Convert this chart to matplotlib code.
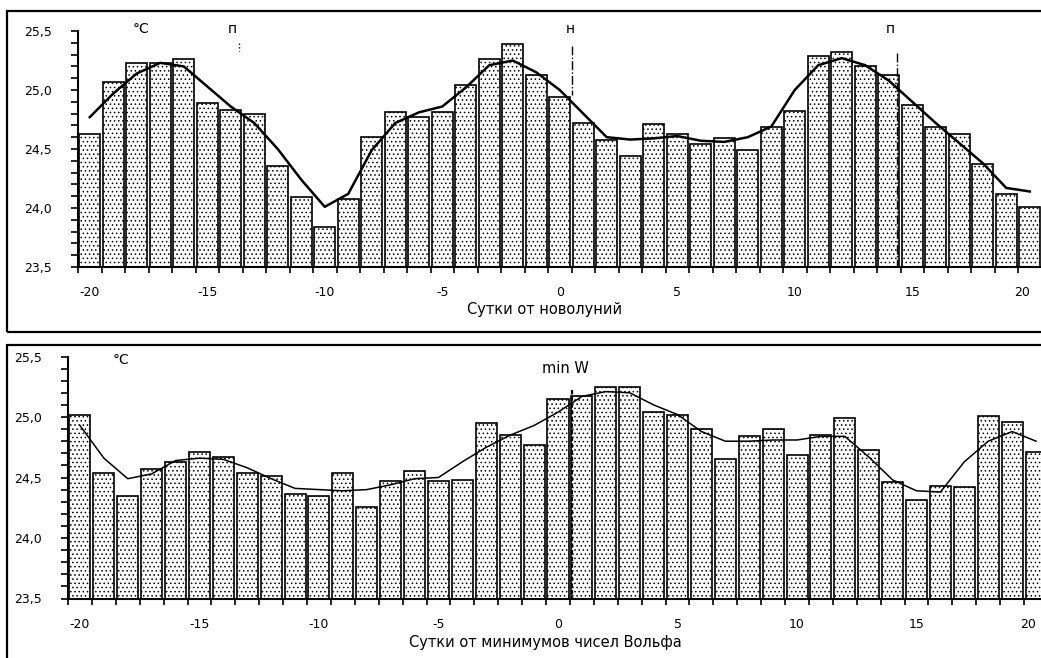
import numpy as np
import matplotlib.pyplot as plt
from matplotlib.patches import Rectangle

W, H = 1041, 658

days = np.arange(-20, 21)

# mean temperature by day relative to new moon
moon_bars = [24.63, 25.07, 25.23, 25.23, 25.26, 24.89, 24.83, 24.80, 24.36, 24.09,
             23.84, 24.08, 24.60, 24.81, 24.77, 24.81, 25.04, 25.26, 25.39, 25.13,
             24.94, 24.72, 24.58, 24.44, 24.71, 24.63, 24.54, 24.59, 24.49, 24.69,
             24.82, 25.29, 25.32, 25.20, 25.13, 24.87, 24.69, 24.63, 24.37, 24.12,
             24.01]
moon_smooth = [24.77, 24.97, 25.14, 25.23, 25.20, 25.03, 24.86, 24.72, 24.50, 24.24,
               24.01, 24.12, 24.49, 24.72, 24.81, 24.86, 25.02, 25.21, 25.25, 25.15,
               25.00, 24.80, 24.60, 24.58, 24.59, 24.61, 24.57, 24.56, 24.60, 24.69,
               25.00, 25.21, 25.27, 25.21, 25.08, 24.90, 24.72, 24.55, 24.38, 24.17,
               24.14]

# mean temperature by day relative to Wolf number minima
wolf_bars = [25.02, 24.54, 24.35, 24.57, 24.63, 24.71, 24.67, 24.54, 24.51, 24.36,
             24.35, 24.54, 24.26, 24.47, 24.55, 24.47, 24.48, 24.95, 24.85, 24.77,
             25.15, 25.17, 25.25, 25.25, 25.04, 25.02, 24.90, 24.65, 24.84, 24.90,
             24.69, 24.85, 24.99, 24.73, 24.46, 24.31, 24.43, 24.42, 25.01, 24.96,
             24.71]
wolf_smooth = [24.93, 24.66, 24.49, 24.53, 24.64, 24.66, 24.65, 24.58, 24.49, 24.41,
               24.40, 24.39, 24.40, 24.44, 24.49, 24.50, 24.63, 24.75, 24.85, 24.93,
               25.04, 25.17, 25.21, 25.20, 25.10, 25.02, 24.88, 24.80, 24.80, 24.81,
               24.81, 24.84, 24.84, 24.67, 24.48, 24.39, 24.38, 24.63, 24.80, 24.88,
               24.80]

y_ticks = [23.5, 24.0, 24.5, 25.0, 25.5]
y_labels = ["23,5", "24,0", "24,5", "25,0", "25,5"]
x_ticks = [-20, -15, -10, -5, 0, 5, 10, 15, 20]

plt.rcParams['font.family'] = ['DejaVu Sans']
plt.rcParams['hatch.linewidth'] = 0.6


def px_axes(fig, left, right, top, bottom):
    return fig.add_axes([left / W, 1 - bottom / H, (right - left) / W, (bottom - top) / H])


def draw_panel(ax, bars, smooth, curve_lw):
    ax.bar(days, np.array(bars) - 23.5, bottom=23.5, width=0.88, color='white',
           edgecolor='black', linewidth=1.2, hatch='....', zorder=2)
    ax.plot(days, smooth, color='black', lw=curve_lw, zorder=3)
    ax.set_xlim(-20.5, 20.5)
    ax.set_ylim(23.5, 25.5)
    for s in ('top', 'right'):
        ax.spines[s].set_visible(False)
    for s in ('left', 'bottom'):
        ax.spines[s].set_linewidth(1.5)
    ax.set_xticks(x_ticks)
    ax.set_xticklabels([str(v) for v in x_ticks], fontsize=9)
    # last label sits against the right edge of the figure
    ax.get_xticklabels()[-1].set_horizontalalignment('right')
    ax.set_xticks(np.arange(-20.5, 21, 1), minor=True)
    ax.tick_params(axis='x', which='major', length=0, pad=14)
    ax.tick_params(axis='x', which='minor', length=4, width=1.2, direction='out')
    ax.set_yticks(y_ticks)
    ax.set_yticklabels(y_labels, fontsize=9)
    ax.set_yticks(np.arange(23.5, 25.51, 0.1), minor=True)
    ax.tick_params(axis='y', which='both', length=5, width=1.2, direction='out')
    ax.tick_params(axis='y', which='major', pad=14)
    ax.set_facecolor('none')


fig = plt.figure(figsize=(W / 100, H / 100), dpi=100)

# panel frames
fig.patches.append(Rectangle((7 / W, 1 - 332 / H), 1.1, 321 / H, transform=fig.transFigure,
                             fill=False, edgecolor='black', lw=1.6))
fig.patches.append(Rectangle((7 / W, 1 - 700 / H), 1.1, 355 / H, transform=fig.transFigure,
                             fill=False, edgecolor='black', lw=1.6))

# top: days from new moon
ax1 = px_axes(fig, 78, 1041.5, 31, 267)
draw_panel(ax1, moon_bars, moon_smooth, 1.8)
ax1.text(-17.8, 25.52, "°C", fontsize=10, ha='center', va='center', clip_on=False)
ax1.text(-13.95, 25.52, "п", fontsize=10, ha='center', va='center', clip_on=False)
ax1.plot([-13.66, -13.66], [25.40, 25.33], color='black', lw=1, ls=':', clip_on=False)
ax1.text(0.47, 25.52, "н", fontsize=10, ha='center', va='center', clip_on=False)
ax1.plot([0.51, 0.51], [25.37, 24.96], color='black', lw=1, ls='-.', clip_on=False, zorder=4)
ax1.text(14.05, 25.52, "п", fontsize=10, ha='center', va='center', clip_on=False)
ax1.plot([14.34, 14.34], [25.31, 23.5], color='black', lw=1, ls='-.', zorder=4)
fig.text(545 / W, 1 - 309 / H, "Сутки от новолуний", fontsize=10.5, ha='center', va='center')

# bottom: days from Wolf number minima
ax2 = px_axes(fig, 68, 1048, 356.5, 598.5)
draw_panel(ax2, wolf_bars, wolf_smooth, 1.1)
ax2.text(-18.3, 25.47, "°C", fontsize=10, ha='center', va='center', clip_on=False)
ax2.text(0.3, 25.40, "min W", fontsize=10.5, ha='center', va='center', clip_on=False)
ax2.plot([0.6, 0.6], [25.22, 23.5], color='black', lw=1.6, ls=(0, (2, 1)), zorder=4)
fig.text(545 / W, 1 - 643 / H, "Сутки от минимумов чисел Вольфа", fontsize=10.5,
         ha='center', va='center')

fig.savefig("out.png", dpi=100)
